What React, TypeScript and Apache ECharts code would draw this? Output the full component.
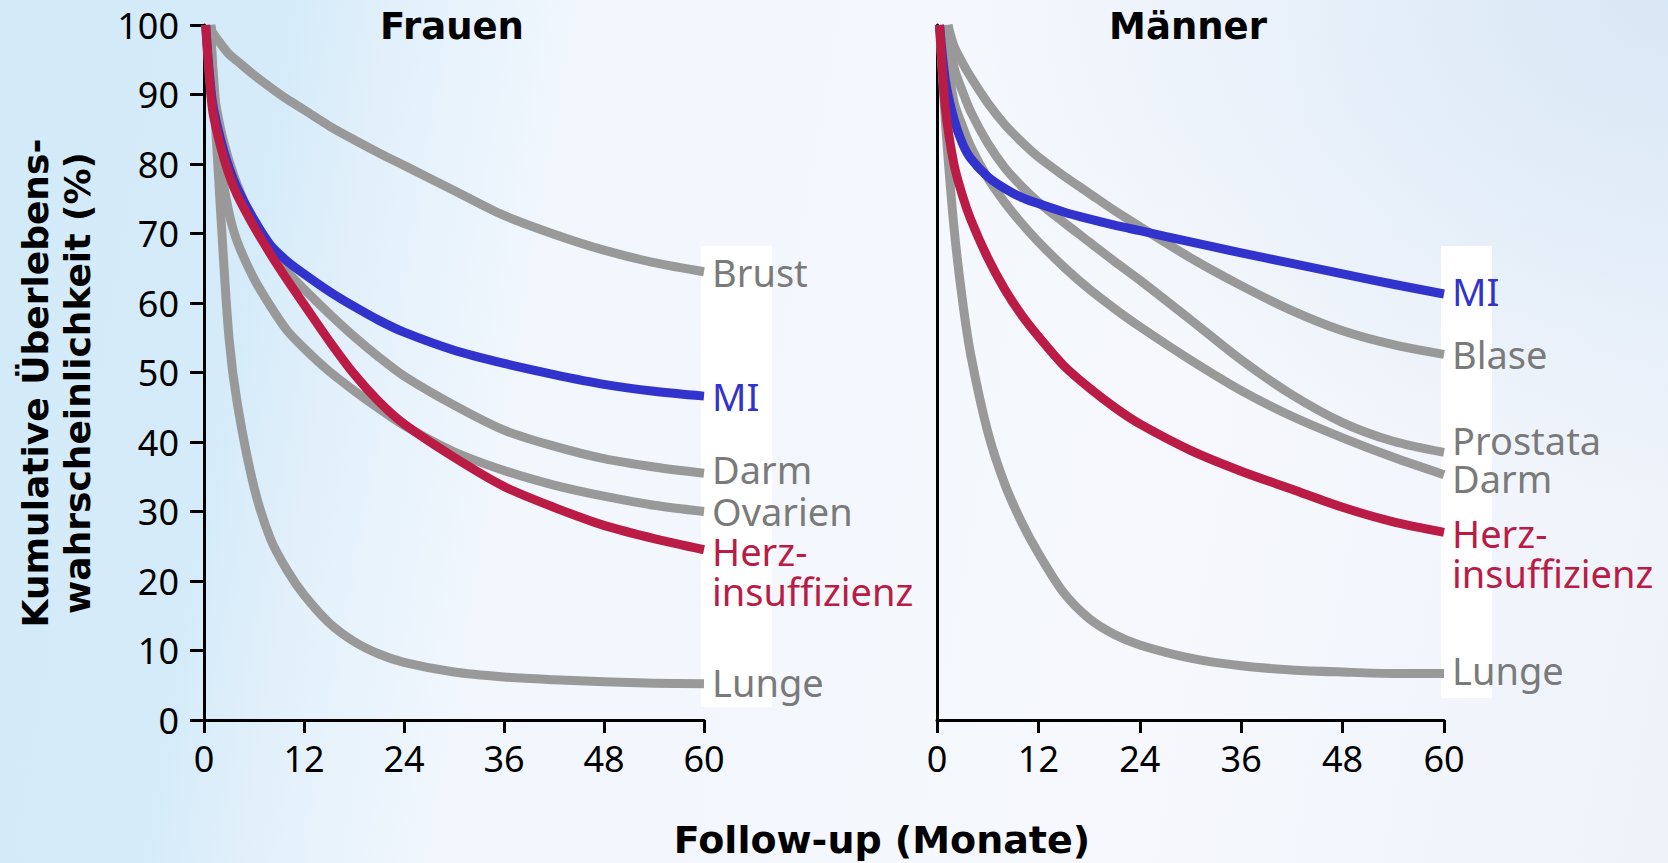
import React, { useEffect, useRef } from "react";
import * as echarts from "echarts";

// Months at which each curve is read (after its start point)
const MONTHS = [1, 2, 3, 4, 6, 8, 10, 12, 15, 18, 21, 24, 30, 36, 42, 48, 54, 60];
const X_TICKS = [0, 12, 24, 36, 48, 60];

// Frauen (women)
const F_BRUST = [99, 97.3, 95.8, 94.8, 92.8, 91, 89.3, 87.8, 85.5, 83.5, 81.6, 79.8, 76.2, 72.6, 69.9, 67.6, 65.8, 64.5];
const F_MI = [89, 83.5, 79.5, 76.5, 72, 68.3, 66, 64.2, 61.7, 59.5, 57.5, 55.8, 53.2, 51.3, 49.7, 48.3, 47.3, 46.6];
const F_DARM = [92, 85, 80.5, 77, 71.5, 67.3, 64.5, 62, 58.5, 55.2, 52.2, 49.5, 45.3, 41.7, 39.4, 37.6, 36.4, 35.5];
const F_OVARIEN = [95, 80, 73, 68.8, 63.5, 59.5, 56, 53.5, 50.2, 47.4, 44.8, 42.4, 38.6, 35.9, 33.8, 32.2, 30.9, 30];
const F_HERZ = [88, 82.5, 78.5, 75.5, 71, 67, 63.3, 59.8, 54.6, 49.8, 45.8, 42.6, 37.8, 33.6, 30.6, 28, 26.1, 24.5];
const F_LUNGE = [94, 73, 55, 45.5, 33.5, 26, 21.5, 18, 14, 11.3, 9.5, 8.3, 6.9, 6.2, 5.8, 5.5, 5.3, 5.2];

// Männer (men)
const M_MI = [92, 86.5, 83, 80.8, 78.2, 76.5, 75.2, 74.3, 73.1, 72.1, 71.2, 70.4, 68.8, 67.2, 65.7, 64.2, 62.7, 61.3];
const M_BLASE = [null, 97, 94.6, 92.5, 88.8, 85.7, 83.2, 81, 78.3, 75.8, 73.3, 71, 66.5, 62.5, 58.9, 56, 54, 52.6];
const M_PROSTATA = [null, 94, 90.5, 87.5, 83, 79.5, 76.8, 74.5, 71.6, 68.8, 66, 63.3, 57.6, 51.8, 46.8, 42.8, 40.1, 38.5];
const M_DARM = [97, 89, 85.5, 82.5, 78, 74.5, 71.5, 68.8, 65.2, 62, 59.2, 56.6, 51.8, 47.4, 43.7, 40.6, 37.8, 35.3];
const M_HERZ = [88, 80, 75.5, 72, 66.5, 62, 58.3, 55.2, 51, 47.8, 45, 42.6, 38.8, 35.8, 33.2, 30.6, 28.5, 27];
const M_LUNGE = [86, 71, 60.5, 52.5, 41.5, 34, 28.5, 24, 18.3, 14.6, 12.3, 10.8, 8.9, 7.8, 7.2, 6.9, 6.7, 6.7];

const GRAY = "#999999";
const BLUE = "#3232cc";
const RED = "#ba1c45";
const LABEL_GRAY = "#7a7a7a";

type Spec = {
  name: string;
  panel: number;
  start: number;
  values: (number | null)[];
  color: string;
  labelColor: string;
  label: string;
  dy: number;
};

const SPECS: Spec[] = [
  { name: "F Brust", panel: 0, start: 0.8, values: F_BRUST, color: GRAY, labelColor: LABEL_GRAY, label: "Brust", dy: 0 },
  { name: "F Darm", panel: 0, start: 0.8, values: F_DARM, color: GRAY, labelColor: LABEL_GRAY, label: "Darm", dy: -4 },
  { name: "F Ovarien", panel: 0, start: 0.8, values: F_OVARIEN, color: GRAY, labelColor: LABEL_GRAY, label: "Ovarien", dy: -1 },
  { name: "F Lunge", panel: 0, start: 0.8, values: F_LUNGE, color: GRAY, labelColor: LABEL_GRAY, label: "Lunge", dy: -2 },
  { name: "F MI", panel: 0, start: 0.2, values: F_MI, color: BLUE, labelColor: BLUE, label: "MI", dy: 0 },
  { name: "F Herz", panel: 0, start: 0.2, values: F_HERZ, color: RED, labelColor: RED, label: "Herz-\ninsuffizienz", dy: 21 },
  { name: "M Blase", panel: 1, start: 1.3, values: M_BLASE, color: GRAY, labelColor: LABEL_GRAY, label: "Blase", dy: 0 },
  { name: "M Prostata", panel: 1, start: 1.3, values: M_PROSTATA, color: GRAY, labelColor: LABEL_GRAY, label: "Prostata", dy: -12 },
  { name: "M Darm", panel: 1, start: 0.8, values: M_DARM, color: GRAY, labelColor: LABEL_GRAY, label: "Darm", dy: 3 },
  { name: "M Lunge", panel: 1, start: 0.3, values: M_LUNGE, color: GRAY, labelColor: LABEL_GRAY, label: "Lunge", dy: -3 },
  { name: "M MI", panel: 1, start: 0.3, values: M_MI, color: BLUE, labelColor: BLUE, label: "MI", dy: -3 },
  { name: "M Herz", panel: 1, start: 0.3, values: M_HERZ, color: RED, labelColor: RED, label: "Herz-\ninsuffizienz", dy: 21 },
];

const TICK_FONT = "'Noto Sans', 'Open Sans', sans-serif";
const BOLD_FONT = "'DejaVu Sans', Verdana, sans-serif";

function buildData(s: Spec) {
  const pts: [number, number][] = [[s.start, 100]];
  MONTHS.forEach((m, i) => {
    const v = s.values[i];
    if (v != null && m > s.start) pts.push([m, v]);
  });
  return pts;
}

function xAxisFor(gridIndex: number) {
  return {
    type: "value",
    gridIndex,
    min: X_TICKS[0],
    max: X_TICKS[X_TICKS.length - 1],
    interval: 12,
    axisLine: { show: true, onZero: false, lineStyle: { color: "#000", width: 3 } },
    axisTick: { show: true, length: 13, lineStyle: { color: "#000", width: 3 } },
    axisLabel: { show: true, color: "#000", fontSize: 36, fontFamily: TICK_FONT, margin: 20 },
    splitLine: { show: false },
  };
}

export default function App() {
  const ref = useRef<HTMLDivElement>(null);
  useEffect(() => {
    if (!ref.current) return;
    const chart = echarts.init(ref.current, null, { renderer: "svg" });
    const series = SPECS.map((s) => ({
      name: s.name,
      type: "line",
      xAxisIndex: s.panel,
      yAxisIndex: s.panel,
      data: buildData(s),
      smooth: 0.3,
      showSymbol: false,
      symbol: "none",
      z: s.color === RED ? 5 : s.color === BLUE ? 4 : 3,
      lineStyle: { color: s.color, width: 9, cap: "butt", join: "round" },
      endLabel: {
        show: true,
        formatter: s.label,
        color: s.labelColor,
        fontSize: 38,
        fontFamily: TICK_FONT,
        lineHeight: s.label.indexOf("\n") >= 0 ? 40 : 33,
        distance: 8,
        offset: [0, s.dy],
        align: "left",
      },
      emphasis: { disabled: true },
      silent: true,
    }));

    chart.setOption({
      animation: false,
      grid: [
        { left: 204, top: 25, width: 500, height: 695 },
        { left: 937, top: 25, width: 507, height: 695 },
      ],
      xAxis: [xAxisFor(0), xAxisFor(1)],
      yAxis: [
        {
          type: "value",
          gridIndex: 0,
          min: 0,
          max: 100,
          interval: 10,
          axisLine: { show: true, onZero: false, lineStyle: { color: "#000", width: 3 } },
          axisTick: { show: true, length: 14, lineStyle: { color: "#000", width: 3 } },
          axisLabel: { show: true, color: "#000", fontSize: 36, fontFamily: TICK_FONT, margin: 25 },
          splitLine: { show: false },
        },
        {
          type: "value",
          gridIndex: 1,
          min: 0,
          max: 100,
          interval: 10,
          axisLine: { show: true, onZero: false, lineStyle: { color: "#000", width: 3 } },
          axisTick: { show: false },
          axisLabel: { show: false },
          splitLine: { show: false },
        },
      ],
      graphic: [
        { type: "rect", z: -1, shape: { x: 701, y: 246, width: 71, height: 461 }, style: { fill: "#ffffff" } },
        { type: "rect", z: -1, shape: { x: 1441, y: 246, width: 51, height: 452 }, style: { fill: "#ffffff" } },
        {
          type: "text",
          x: 452,
          y: 26,
          style: {
            text: "Frauen",
            fill: "#000",
            fontSize: 37,
            fontWeight: "bold",
            fontFamily: BOLD_FONT,
            align: "center",
            verticalAlign: "middle",
          },
        },
        {
          type: "text",
          x: 1188,
          y: 26,
          style: {
            text: "Männer",
            fill: "#000",
            fontSize: 37,
            fontWeight: "bold",
            fontFamily: BOLD_FONT,
            align: "center",
            verticalAlign: "middle",
          },
        },
        {
          type: "text",
          x: 56,
          y: 383,
          rotation: Math.PI / 2,
          style: {
            text: "Kumulative Überlebens-\nwahrscheinlichkeit (%)",
            fill: "#000",
            fontSize: 36,
            lineHeight: 42,
            fontWeight: "bold",
            fontFamily: BOLD_FONT,
            align: "center",
            verticalAlign: "middle",
          },
        },
        {
          type: "text",
          x: 882,
          y: 840,
          style: {
            text: "Follow-up (Monate)",
            fill: "#000",
            fontSize: 38,
            fontWeight: "bold",
            fontFamily: BOLD_FONT,
            align: "center",
            verticalAlign: "middle",
          },
        },
      ],
      series,
    });
    return () => chart.dispose();
  }, []);

  return (
    <div
      ref={ref}
      style={{
        position: "fixed",
        left: 0,
        top: 0,
        width: 1668,
        height: 863,
        background:
          "radial-gradient(ellipse 700px 500px at 100% 0%, rgba(214,230,245,0.9) 0%, rgba(214,230,245,0) 100%), linear-gradient(100deg, #d3eaf8 0%, #d5ebf9 16%, #e4f1fb 23%, #f2f7fd 33%, #f6f8fd 70%, #eef3fa 100%)",
      }}
    />
  );
}
